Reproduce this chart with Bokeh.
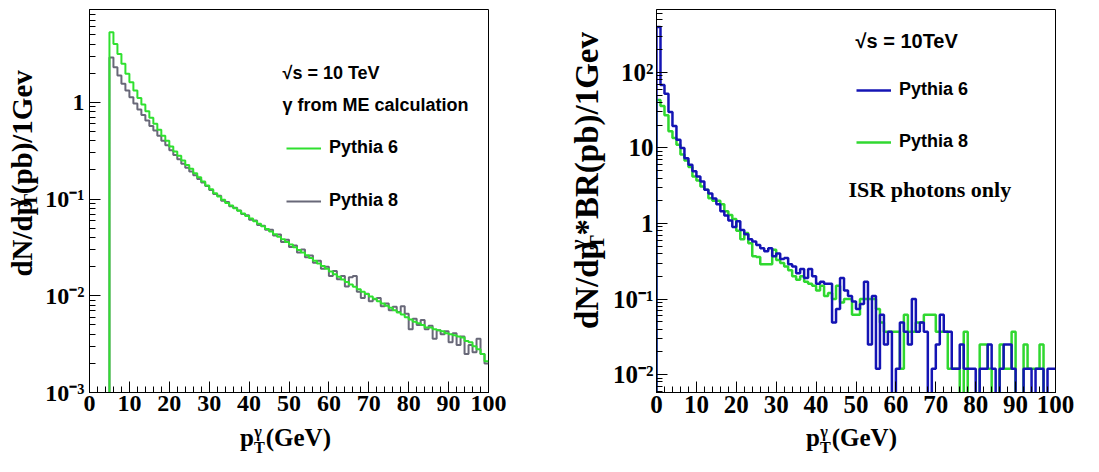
import math
from bokeh.plotting import figure
from bokeh.models import (Label, Legend, LegendItem, FixedTicker, SingleIntervalTicker,
                          CustomJSTickFormatter, Range1d)
from bokeh.core.properties import value
from bokeh.layouts import row, column
from bokeh.embed import file_html
from bokeh.resources import INLINE

# ---------------- data ----------------
left_bin_low = list(range(5, 100))          # 1 GeV bins, 5..100
left_pythia6 = [
    5.3, 4.0, 3.16, 2.5, 1.97, 1.61, 1.32, 1.11, 0.95, 0.81,
    0.69, 0.60, 0.52, 0.45, 0.40, 0.35, 0.31, 0.28, 0.25, 0.225,
    0.205, 0.185, 0.168, 0.152, 0.138, 0.126, 0.115, 0.106, 0.098, 0.091,
    0.0855, 0.0804, 0.0756, 0.071, 0.0668, 0.0628, 0.059, 0.0555, 0.0522, 0.049,
    0.0461, 0.0433, 0.0407, 0.0383, 0.036, 0.0339, 0.0318, 0.0298, 0.028, 0.0262,
    0.0246, 0.023, 0.0216, 0.0203, 0.019, 0.0178, 0.0167, 0.0157, 0.0147, 0.0139,
    0.0131, 0.0124, 0.0117, 0.011, 0.0104, 0.0098, 0.0093, 0.0088, 0.0083, 0.0079,
    0.0075, 0.0071, 0.0067, 0.0064, 0.006, 0.0057, 0.0054, 0.0052, 0.005, 0.0047,
    0.0047, 0.0045, 0.0044, 0.0043, 0.0041, 0.004, 0.0039, 0.0038, 0.0037, 0.0034,
    0.0033, 0.003, 0.0028, 0.0025, 0.0021,
]
left_pythia8 = [
    2.9, 2.3, 1.89, 1.55, 1.32, 1.13, 0.97, 0.84, 0.74, 0.65,
    0.57, 0.51, 0.45, 0.40, 0.36, 0.32, 0.285, 0.258, 0.232, 0.21,
    0.192, 0.176, 0.161, 0.148, 0.136, 0.124, 0.113, 0.108, 0.096, 0.093,
    0.084, 0.081, 0.076, 0.07, 0.068, 0.061, 0.06, 0.054, 0.053, 0.048,
    0.048, 0.042, 0.043, 0.036, 0.038, 0.032, 0.033, 0.028, 0.03, 0.025,
    0.026, 0.022, 0.023, 0.019, 0.02, 0.016, 0.018, 0.0148, 0.016, 0.0125,
    0.0155, 0.016, 0.011, 0.0095, 0.0105, 0.0088, 0.0092, 0.0095, 0.0078, 0.0083,
    0.0071, 0.0077, 0.0068, 0.0078, 0.0065, 0.0045, 0.0058, 0.005, 0.0056, 0.0045,
    0.0049, 0.0036, 0.0044, 0.004, 0.0043, 0.0033, 0.0041, 0.0031, 0.0038, 0.0025,
    0.0031, 0.0026, 0.0036, 0.0025, 0.002,
]
right_bin_low = list(range(0, 100))
right_pythia6 = [
    400, 68, 52, 30, 19.5, 12.8, 10.0, 7.3, 6.0, 4.9,
    4.2, 3.6, 2.8, 2.5, 2.15, 1.8, 1.45, 1.28, 1.1, 0.9,
    1.07, 0.82, 0.72, 0.62, 0.58, 0.52, 0.47, 0.43, 0.47, 0.37,
    0.40, 0.34, 0.35, 0.29, 0.27, 0.22, 0.25, 0.19, 0.25, 0.20,
    0.16, 0.17, 0.16, 0.16, 0.049, 0.074, 0.19, 0.13, 0.11, 0.093,
    0.074, 0.086, 0.17, 0.025, 0.11, 0.012, 0.062, 0.025, 0.037, 0.0,
    0.012, 0.049, 0.037, 0.025, 0.1, 0.037, 0.049, 0.037, 0.0, 0.012,
    0.025, 0.062, 0.037, 0.037, 0.012, 0.012, 0.025, 0.012, 0.012, 0.012,
    0.0, 0.012, 0.012, 0.025, 0.012, 0.0, 0.012, 0.025, 0.025, 0.012,
    0.0, 0.0, 0.012, 0.012, 0.0, 0.012, 0.012, 0.0, 0.012, 0.012,
]
right_pythia8 = [
    43, 36, 27, 16.6, 13.5, 11, 8.2, 6.8, 5.6, 4.2,
    3.7, 3.1, 2.8, 2.16, 2.0, 2.0, 1.8, 1.45, 1.3, 1.15,
    0.80, 0.62, 0.75, 0.55, 0.37, 0.36, 0.29, 0.29, 0.29, 0.45,
    0.33, 0.30, 0.27, 0.24, 0.20, 0.18, 0.20, 0.17, 0.16, 0.15,
    0.13, 0.15, 0.11, 0.12, 0.10, 0.15, 0.09, 0.10, 0.10, 0.062,
    0.062, 0.10, 0.10, 0.10, 0.10, 0.074, 0.049, 0.037, 0.037, 0.037,
    0.037, 0.012, 0.062, 0.037, 0.037, 0.049, 0.049, 0.062, 0.062, 0.062,
    0.037, 0.037, 0.037, 0.012, 0.012, 0.012, 0.0, 0.037, 0.0, 0.0,
    0.0, 0.025, 0.025, 0.012, 0.0, 0.0, 0.025, 0.012, 0.012, 0.037,
    0.0, 0.0, 0.025, 0.012, 0.012, 0.012, 0.025, 0.0, 0.0, 0.0,
]
x_ticks = list(range(0, 101, 10))
left_y_ticks = [1e-3, 1e-2, 1e-1, 1.0]
right_y_ticks = [1e-2, 1e-1, 1.0, 10.0, 100.0]

LEFT_COLORS = {"Pythia 6": "#2fe02f", "Pythia 8": "#686878"}
RIGHT_COLORS = {"Pythia 6": "#1414b4", "Pythia 8": "#30d830"}

SERIF = "Liberation Serif"
SANS = "Liberation Sans"
FLOOR = 1e-6
MAIN_H = 423          # frame from page y 9 to 392
XLAB_H = 47
MID = 0.37            # text anchor ("middle") above baseline, fraction of font size
SUB = 0.65            # script size relative to main size

# Times-bold advance widths (em) for placing sub/superscript pieces
TW = {"d": .556, "N": .722, "/": .278, "p": .556, "(": .333, ")": .333, "b": .556,
      "1": .5, "G": .778, "e": .444, "v": .5, "*": .5, "B": .667, "R": .722,
      "T": .667, "V": .722, "γ": .5}


def tw(s, size):
    return sum(TW.get(c, .5) for c in s) * size


def hist_xy(lows, vals):
    xs = [lows[0]] + list(lows) + [lows[-1] + 1]
    ys = [FLOOR] + [max(v, FLOOR) for v in vals] + [max(vals[-1], FLOOR)]
    return xs, ys


TICK_JS = """
const e = Math.round(Math.log10(tick));
if (e == 0) return "1";
if (e == 1) return "10";
const sup = {"-": "\u207b", "0": "\u2070", "1": "\u00b9", "2": "\u00b2", "3": "\u00b3"};
return "10" + String(e).split("").map(c => sup[c]).join("");
"""


def make_fig(width, ml, mr, yr, yticks, ylab_std, fsize, xlab_std):
    p = figure(width=width, height=MAIN_H, x_axis_type="linear", y_axis_type="log",
               x_range=Range1d(0, 100), y_range=Range1d(*yr),
               output_backend="svg", toolbar_location=None,
               min_border_left=ml, min_border_right=mr,
               min_border_top=9, min_border_bottom=MAIN_H - 392)
    p.xgrid.visible = False
    p.ygrid.visible = False
    p.outline_line_color = "black"
    p.outline_line_width = 1
    p.background_fill_color = "white"
    p.border_fill_color = "white"

    p.xaxis.ticker = SingleIntervalTicker(interval=10, num_minor_ticks=5)
    minors = [k * 10.0 ** e for e in range(-4, 4) for k in range(2, 10)]
    p.yaxis.ticker = FixedTicker(ticks=yticks, minor_ticks=minors)
    p.yaxis.formatter = CustomJSTickFormatter(code=TICK_JS)
    for ax in (p.xaxis, p.yaxis):
        ax.major_tick_in = 11
        ax.major_tick_out = 0
        ax.minor_tick_in = 6
        ax.minor_tick_out = 0
        ax.major_tick_line_color = "black"
        ax.minor_tick_line_color = "black"
        ax.axis_line_color = "black"
        ax.major_label_text_font = SERIF
        ax.major_label_text_font_style = "bold"
        ax.major_label_text_font_size = f"{fsize}px"
        ax.major_label_text_color = "black"
    p.xaxis.major_label_standoff = xlab_std
    p.yaxis.major_label_standoff = ylab_std
    return p


def text_fig(width, height):
    f = figure(width=width, height=height, x_range=Range1d(0, width), y_range=Range1d(0, height),
               output_backend="svg", toolbar_location=None,
               x_axis_location=None, y_axis_location=None,
               min_border_left=0, min_border_right=0, min_border_top=0, min_border_bottom=0)
    f.xgrid.visible = False
    f.ygrid.visible = False
    f.outline_line_color = None
    f.background_fill_color = "white"
    f.border_fill_color = "white"
    return f


def put(f, x, y, text, size, angle=0.0, align="center"):
    f.text(x=[x], y=[y], text=[text], angle=angle, text_font=value(SERIF),
           text_font_style="bold", text_font_size=value(f"{size:.1f}px"), text_color="black",
           text_baseline="middle", text_align=align)


def ylabel_fig(width, xb, s0, rest, F, sub_drop, sup_rise):
    """Rotated label dN/dp_T^γ<rest>; baseline at x=xb (text-up points to -x), starting at height s0."""
    f = text_fig(width, MAIN_H)
    a = math.pi / 2
    s = SUB * F
    w1, wT, wg = tw("dN/dp", F), tw("T", s), tw("γ", s)
    gap = max(wT, wg) + 1
    put(f, xb - MID * F, s0, "dN/dp", F, a, "left")
    put(f, xb + sub_drop * F - MID * s, s0 + w1, "T", s, a, "left")
    put(f, xb - sup_rise * F - MID * s, s0 + w1, "γ", s, a, "left")
    put(f, xb - MID * F, s0 + w1 + gap, rest, F, a, "left")
    return f


def xlabel_fig(width, cx, yb, F, sub_drop, sup_rise):
    """Label p_T^γ(GeV) centred at cx with baseline at height yb."""
    f = text_fig(width, XLAB_H)
    s = SUB * F
    wp, wT, wg, w3 = tw("p", F), tw("T", s), tw("γ", s), tw("(GeV)", F)
    gap = max(wT, wg) + 1
    x0 = cx - (wp + gap + w3) / 2
    put(f, x0 + wp / 2, yb + MID * F, "p", F)
    put(f, x0 + wp + wT / 2, yb - sub_drop + MID * s, "T", s)
    put(f, x0 + wp + wg / 2, yb + sup_rise + MID * s, "γ", s)
    put(f, x0 + wp + gap + w3 / 2, yb + MID * F, "(GeV)", F)
    return f


def add_legend(p, renderers, labels, x, y, spacing):
    items = [LegendItem(label=l, renderers=[r]) for l, r in zip(labels, renderers)]
    leg = Legend(items=items, location=(x, y), orientation="vertical",
                 glyph_width=35, glyph_height=20, label_height=20, label_standoff=8,
                 spacing=spacing, padding=0, margin=0,
                 border_line_color=None, background_fill_alpha=0,
                 label_text_font=SANS, label_text_font_style="bold",
                 label_text_font_size="18px", label_text_color="black")
    p.add_layout(leg)


def note(p, x, y, text, size, font):
    # text inside the frame: x = left edge, y = vertical centre (px from frame bottom-left)
    p.add_layout(Label(x=x, y=y, x_units="screen", y_units="screen", text=text,
                       text_font=font, text_font_style="bold", text_font_size=f"{size}px",
                       text_color="black", text_baseline="middle", text_align="left"))


XB_PAGE = 446          # baseline of the x-axis titles (page px)
XL_YB = MAIN_H + XLAB_H - XB_PAGE

# ---------------- left panel ----------------
YL1_W = 42
p1 = make_fig(560 - YL1_W, 85 - YL1_W, 72, (1e-3, 9.1), left_y_ticks, 5, 24, 3)
r_l = []
for name, vals in (("Pythia 8", left_pythia8), ("Pythia 6", left_pythia6)):
    xs, ys = hist_xy(left_bin_low, vals)
    r_l.append(p1.step(xs, ys, mode="after", line_color=LEFT_COLORS[name], line_width=2))
add_legend(p1, [r_l[1], r_l[0]], ["Pythia 6", "Pythia 8"], 197, 181, 32)
note(p1, 193, 392 - 72, "√s = 10 TeV", 18, SANS)
note(p1, 193, 392 - 104, "γ from ME calculation", 18, SANS)
yl1 = ylabel_fig(YL1_W, 32, MAIN_H - 295, "(pb)/1Gev", 29, 0.18, 0.42)
xl1 = xlabel_fig(560, 285, XL_YB, 25, 7.5, 8.0)

# ---------------- right panel ----------------
YL2_W = 50
p2 = make_fig(481, 652 - 560 - YL2_W, 36, (0.0058, 680), right_y_ticks, 3, 25, 3)
r_r = []
for name, vals in (("Pythia 8", right_pythia8), ("Pythia 6", right_pythia6)):
    xs, ys = hist_xy(right_bin_low, vals)
    r_r.append(p2.step(xs, ys, mode="after", line_color=RIGHT_COLORS[name], line_width=2.5))
add_legend(p2, [r_r[1], r_r[0]], ["Pythia 6", "Pythia 8"], 200, 240, 31)
note(p2, 199, 392 - 40, "√s = 10TeV", 20, SANS)
note(p2, 192, 392 - 189, "ISR photons only", 22, SERIF)
yl2 = ylabel_fig(YL2_W, 599 - 560, MAIN_H - 353, "*BR(pb)/1Gev", 33, 0.15, 0.4)
xl2 = xlabel_fig(531, 851 - 560, XL_YB, 25, 7.5, 8.0)

layout = row(column(row(yl1, p1), xl1), column(row(yl2, p2), xl2))
open("out.html", "w").write(file_html(layout, INLINE))
